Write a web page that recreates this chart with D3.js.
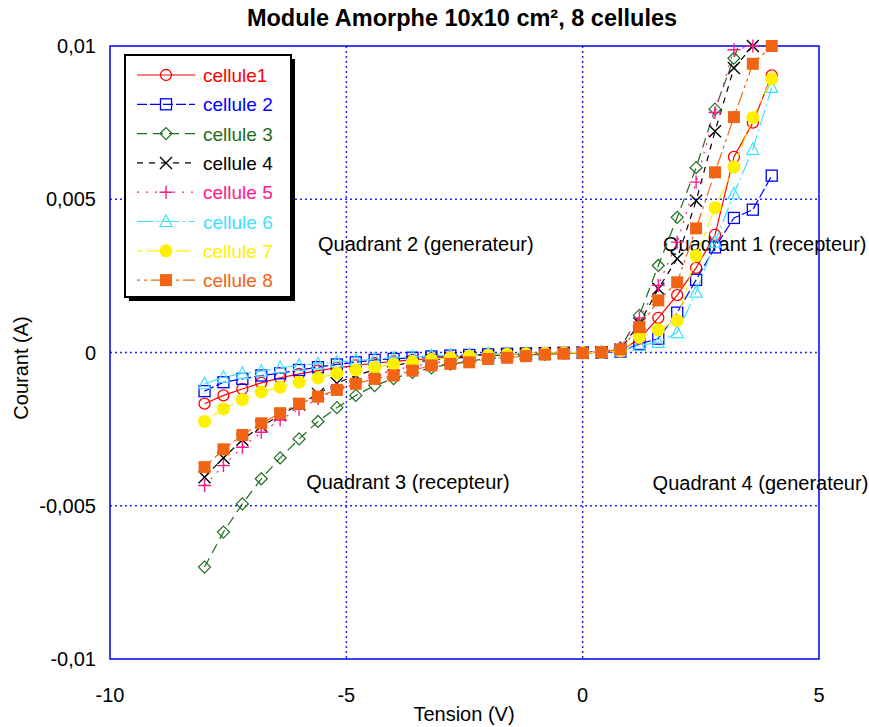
<!DOCTYPE html>
<html><head><meta charset="utf-8">
<script src="https://cdn.jsdelivr.net/npm/d3@7"></script>
<style>body{margin:0;background:#fff}svg text{font-family:"Liberation Sans",Arial,sans-serif}</style>
</head><body><svg id="c" width="869" height="727"></svg>
<script>
// Tension (V)
const tension = [-8,-7.6,-7.2,-6.8,-6.4,-6.0,-5.6,-5.2,-4.8,-4.4,-4.0,-3.6,-3.2,-2.8,-2.4,-2.0,-1.6,-1.2,-0.8,-0.4,0,0.4,0.8,1.2,1.6,2.0,2.4,2.8,3.2,3.6,4.0];
// Courant (mA)
const cellule1 = [-1.67,-1.40,-1.19,-0.99,-0.83,-0.70,-0.59,-0.50,-0.42,-0.35,-0.29,-0.24,-0.19,-0.15,-0.11,-0.08,-0.06,-0.04,-0.02,-0.01,0,0.01,0.05,0.45,1.13,1.87,2.76,3.84,6.38,7.50,9.04];
const cellule2 = [-1.26,-0.97,-0.86,-0.75,-0.68,-0.57,-0.48,-0.39,-0.32,-0.24,-0.21,-0.17,-0.13,-0.10,-0.08,-0.06,-0.04,-0.03,-0.02,-0.01,0,0,0.03,0.28,0.45,1.30,2.37,3.43,4.39,4.66,5.77];
const cellule3 = [-7.00,-5.86,-4.94,-4.12,-3.44,-2.82,-2.25,-1.80,-1.40,-1.08,-0.85,-0.65,-0.50,-0.38,-0.28,-0.20,-0.14,-0.09,-0.05,-0.02,0,0.02,0.15,1.21,2.84,4.41,6.03,7.94,9.60,11.3,13.0];
const cellule4 = [-4.07,-3.44,-2.85,-2.40,-2.05,-1.70,-1.35,-1.00,-0.75,-0.56,-0.42,-0.32,-0.25,-0.19,-0.15,-0.11,-0.08,-0.05,-0.03,-0.02,-0.01,0.01,0.10,0.95,2.08,3.06,4.95,7.22,9.28,10.0,11.5];
const cellule5 = [-4.34,-3.69,-3.09,-2.60,-2.20,-1.85,-1.50,-1.20,-0.95,-0.75,-0.58,-0.45,-0.35,-0.27,-0.20,-0.15,-0.10,-0.07,-0.04,-0.02,-0.01,0.02,0.15,1.13,2.19,3.60,5.56,7.83,9.88,10.0,11.5];
const cellule6 = [-1.02,-0.81,-0.68,-0.61,-0.50,-0.42,-0.37,-0.31,-0.26,-0.21,-0.17,-0.14,-0.11,-0.09,-0.07,-0.05,-0.04,-0.03,-0.02,-0.01,0,0,0.05,0.23,0.33,0.65,1.97,3.60,5.18,6.63,8.65];
const cellule7 = [-2.25,-1.84,-1.54,-1.29,-1.13,-0.97,-0.83,-0.68,-0.57,-0.48,-0.38,-0.31,-0.23,-0.17,-0.12,-0.09,-0.06,-0.04,-0.02,-0.01,0,0,0.05,0.50,0.74,1.04,3.16,4.72,6.05,7.66,8.93];
const cellule8 = [-3.74,-3.16,-2.69,-2.31,-1.98,-1.67,-1.44,-1.22,-1.02,-0.86,-0.75,-0.59,-0.42,-0.37,-0.32,-0.21,-0.17,-0.12,-0.07,-0.04,-0.02,0.01,0.10,0.83,1.70,2.29,4.05,5.88,7.68,9.42,10.0];
const seriesNames = ["cellule1","cellule 2","cellule 3","cellule 4","cellule 5","cellule 6","cellule 7","cellule 8"];
const seriesValues = [cellule1,cellule2,cellule3,cellule4,cellule5,cellule6,cellule7,cellule8];
const xTicks = [-10,-5,0,5];
const xTickLabels = ["-10","-5","0","5"];
const yTicks = [-10,-5,0,5,10];
const yTickLabels = ["-0,01","-0,005","0","0,005","0,01"];
const title = "Module Amorphe 10x10 cm², 8 cellules";
const quadrants = [
  {t:"Quadrant 2 (generateur)", x:-5.6, y:3.3},
  {t:"Quadrant 1 (recepteur)", x:1.7, y:3.3},
  {t:"Quadrant 3 (recepteur)", x:-5.85, y:-4.45},
  {t:"Quadrant 4 (generateur)", x:1.48, y:-4.5}
];

const styles = [
  {color:"#ff0000", dash:null, m:"circle"},
  {color:"#0000ff", dash:"10,3", m:"square"},
  {color:"#1d6e1d", dash:"10,6", m:"diamond"},
  {color:"#000000", dash:"6,6", m:"x"},
  {color:"#ff1a8c", dash:"2,7", m:"plus"},
  {color:"#3fe0ff", dash:"16,4,2,4", m:"triangle"},
  {color:"#fff000", dash:"5,5,14,5", m:"dot"},
  {color:"#f06414", dash:"3,4,3,4,14,4", m:"fsquare"}
];

const svg = d3.select("#c");
const L=110,R=819,T=46,B=659;
const x = d3.scaleLinear().domain([-10,5]).range([L,R]);
const y = d3.scaleLinear().domain([-10,10]).range([B,T]);

function marker(g, type, cx, cy, color){
  switch(type){
    case "circle": g.append("circle").attr("cx",cx).attr("cy",cy).attr("r",5.5).attr("fill","none").attr("stroke",color).attr("stroke-width",1.3); break;
    case "square": g.append("rect").attr("x",cx-5.5).attr("y",cy-5.5).attr("width",11).attr("height",11).attr("fill","none").attr("stroke",color).attr("stroke-width",1.3); break;
    case "diamond": g.append("path").attr("d",`M${cx},${cy-6}L${cx+6},${cy}L${cx},${cy+6}L${cx-6},${cy}Z`).attr("fill","none").attr("stroke",color).attr("stroke-width",1.2); break;
    case "x": g.append("path").attr("d",`M${cx-6},${cy-6}L${cx+6},${cy+6}M${cx-6},${cy+6}L${cx+6},${cy-6}`).attr("stroke",color).attr("stroke-width",1.4); break;
    case "plus": g.append("path").attr("d",`M${cx-6.5},${cy}L${cx+6.5},${cy}M${cx},${cy-6.5}L${cx},${cy+6.5}`).attr("stroke",color).attr("stroke-width",1.4); break;
    case "triangle": g.append("path").attr("d",`M${cx},${cy-6.5}L${cx+6},${cy+5}L${cx-6},${cy+5}Z`).attr("fill","none").attr("stroke",color).attr("stroke-width",1.2); break;
    case "dot": g.append("circle").attr("cx",cx).attr("cy",cy).attr("r",6.5).attr("fill",color); break;
    case "fsquare": g.append("rect").attr("x",cx-6).attr("y",cy-6).attr("width",12).attr("height",12).attr("fill",color); break;
  }
}

svg.append("defs").append("clipPath").attr("id","clip").append("rect").attr("x",L).attr("y",T).attr("width",R-L).attr("height",B-T);

// grid
const grid = svg.append("g");
[-5,0].forEach(v=>grid.append("line").attr("x1",x(v)).attr("x2",x(v)).attr("y1",T).attr("y2",B).attr("stroke","#2222ff").attr("stroke-width",1.5).attr("stroke-dasharray","2,3"));
[-5,0,5].forEach(v=>grid.append("line").attr("x1",L).attr("x2",R).attr("y1",y(v)).attr("y2",y(v)).attr("stroke","#2222ff").attr("stroke-width",1.5).attr("stroke-dasharray","2,3"));

// frame
svg.append("rect").attr("x",L).attr("y",T).attr("width",R-L).attr("height",B-T).attr("fill","none").attr("stroke","#0000ee").attr("stroke-width",1.5);

// axes labels
const ax = svg.append("g").attr("font-size",20).attr("fill","#000");
yTicks.forEach((v,i)=>ax.append("text").attr("x",96).attr("y",y(v)+7).attr("text-anchor","end").text(yTickLabels[i]));
xTicks.forEach((v,i)=>ax.append("text").attr("x",x(v)).attr("y",702).attr("text-anchor","middle").text(xTickLabels[i]));
ax.append("text").attr("x",464).attr("y",721).attr("text-anchor","middle").text("Tension (V)");
ax.append("text").attr("transform","translate(28,368) rotate(-90)").attr("text-anchor","middle").text("Courant (A)");
svg.append("text").attr("x",462).attr("y",26).attr("text-anchor","middle").attr("font-size",23.5).attr("font-weight","bold").text(title);

// quadrant labels
quadrants.forEach(q=>svg.append("text").attr("x",x(q.x)).attr("y",y(q.y)).attr("font-size",20).text(q.t));

// series
const data = seriesValues.map((vals,i)=>vals.map((v,j)=>({v:tension[j], c:v})));
const line = d3.line().x(d=>x(d.v)).y(d=>y(d.c));
const plot = svg.append("g");
data.forEach((pts,i)=>{
  const s = styles[i];
  const g = plot.append("g");
  g.append("path").attr("d",line(pts)).attr("fill","none").attr("stroke",s.color).attr("stroke-width",1.2)
    .attr("stroke-dasharray",s.dash).attr("clip-path","url(#clip)");
  pts.filter(d=>d.c<=10 && d.c>=-10).forEach(d=>marker(g,s.m,x(d.v),y(d.c),s.color));
});

// legend
const lg = svg.append("g");
lg.append("rect").attr("x",129).attr("y",59).attr("width",166).attr("height",242).attr("fill","#000");
lg.append("rect").attr("x",125).attr("y",55).attr("width",166).attr("height",242).attr("fill","#fff").attr("stroke","#000").attr("stroke-width",2);
seriesNames.forEach((n,i)=>{
  const s = styles[i];
  const yy = 75 + i*29.3;
  lg.append("line").attr("x1",137).attr("x2",195).attr("y1",yy).attr("y2",yy).attr("stroke",s.color).attr("stroke-width",1.2).attr("stroke-dasharray",s.dash);
  marker(lg,s.m,166,yy,s.color);
  lg.append("text").attr("x",203).attr("y",yy+7).attr("font-size",19).attr("fill",s.color).text(n);
});
</script></body></html>
